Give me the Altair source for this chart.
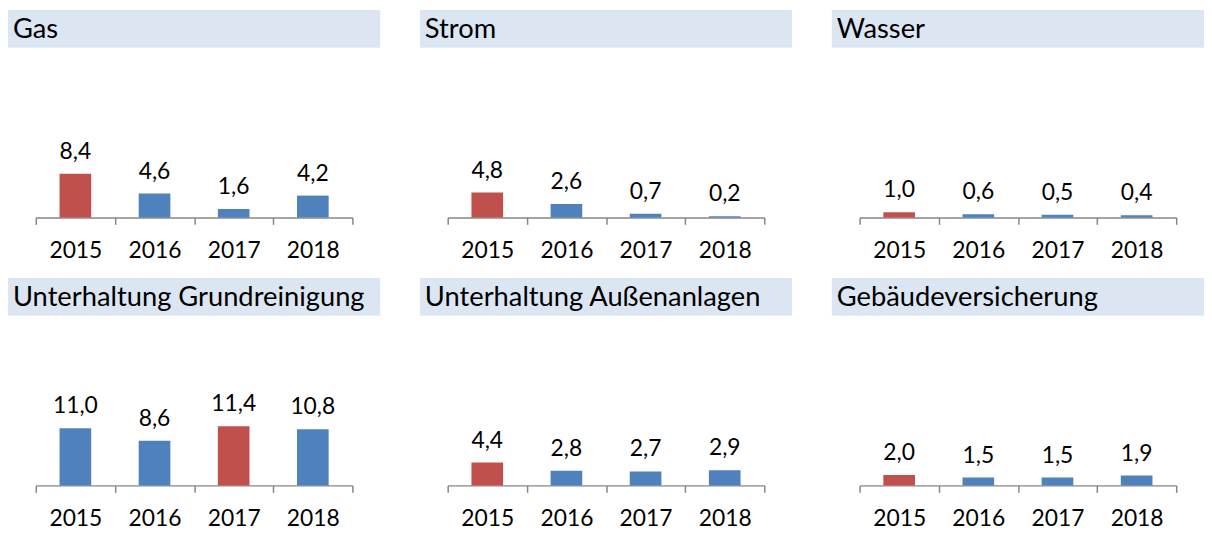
import altair as alt
import pandas as pd

years = ["2015", "2016", "2017", "2018"]
titles = [
    "Gas",
    "Strom",
    "Wasser",
    "Unterhaltung Grundreinigung",
    "Unterhaltung Außenanlagen",
    "Gebäudeversicherung",
]
gas = [8.4, 4.6, 1.6, 4.2]
strom = [4.8, 2.6, 0.7, 0.2]
wasser = [1.0, 0.6, 0.5, 0.4]
grundreinigung = [11.0, 8.6, 11.4, 10.8]
aussenanlagen = [4.4, 2.8, 2.7, 2.9]
versicherung = [2.0, 1.5, 1.5, 1.9]
series = [gas, strom, wasser, grundreinigung, aussenanlagen, versicherung]

FONT = "Lato"
W = 375
H = 209
AXIS_GRAY = "#868686"


def panel(title, values):
    df = pd.DataFrame({"year": years, "value": values})
    tdf = pd.DataFrame({"title": [title]})
    base = alt.Chart(df).transform_joinaggregate(
        mx="max(value)"
    ).transform_calculate(
        highlight="datum.value == datum.mx ? 'max' : 'other'",
        label="replace(format(datum.value, '.1f'), '.', ',')",
    )
    x = alt.X(
        "year:N",
        sort=years,
        title=None,
        scale=alt.Scale(range=[28, 347], paddingInner=0, paddingOuter=0),
        axis=alt.Axis(
            labelAngle=0,
            tickBand="extent",
            domainColor=AXIS_GRAY,
            tickColor=AXIS_GRAY,
            domainWidth=1.5,
            tickWidth=1.5,
            tickSize=7,
            labelFont=FONT,
            labelFontSize=23,
            labelColor="#000000",
            labelPadding=15,
            grid=False,
        ),
    )
    y = alt.Y("value:Q", scale=alt.Scale(domain=[0, 40], nice=False, zero=True), axis=None)

    bg = alt.Chart(tdf).mark_rect(color="#dce6f2").encode(
        x=alt.value(0), x2=alt.value(W), y=alt.value(0), y2=alt.value(38)
    )
    ttl = alt.Chart(tdf).mark_text(
        align="left", baseline="middle", font=FONT, fontSize=27.5, color="#000000"
    ).encode(x=alt.value(5), y=alt.value(20), text="title:N")
    bars = base.mark_bar(width=alt.RelativeBandSize(0.4)).encode(
        x=x,
        y=y,
        color=alt.Color(
            "highlight:N",
            scale=alt.Scale(domain=["max", "other"], range=["#c0504d", "#4f81bd"]),
            legend=None,
        ),
    )
    labels = base.mark_text(
        dy=-15, baseline="alphabetic", font=FONT, fontSize=23, color="#000000"
    ).encode(x=x, y=y, text="label:N")
    return alt.layer(bg, ttl, bars, labels).properties(width=W, height=H)


panels = [panel(t, v) for t, v in zip(titles, series)]
row1 = alt.hconcat(*panels[:3], spacing=40)
row2 = alt.hconcat(*panels[3:], spacing=40)
chart = alt.vconcat(row1, row2, spacing=16).properties(
    padding=0, background="white"
).configure_view(stroke=None).resolve_scale(color="independent")

chart.save("out.html", embed_options={"renderer": "svg", "actions": False})
